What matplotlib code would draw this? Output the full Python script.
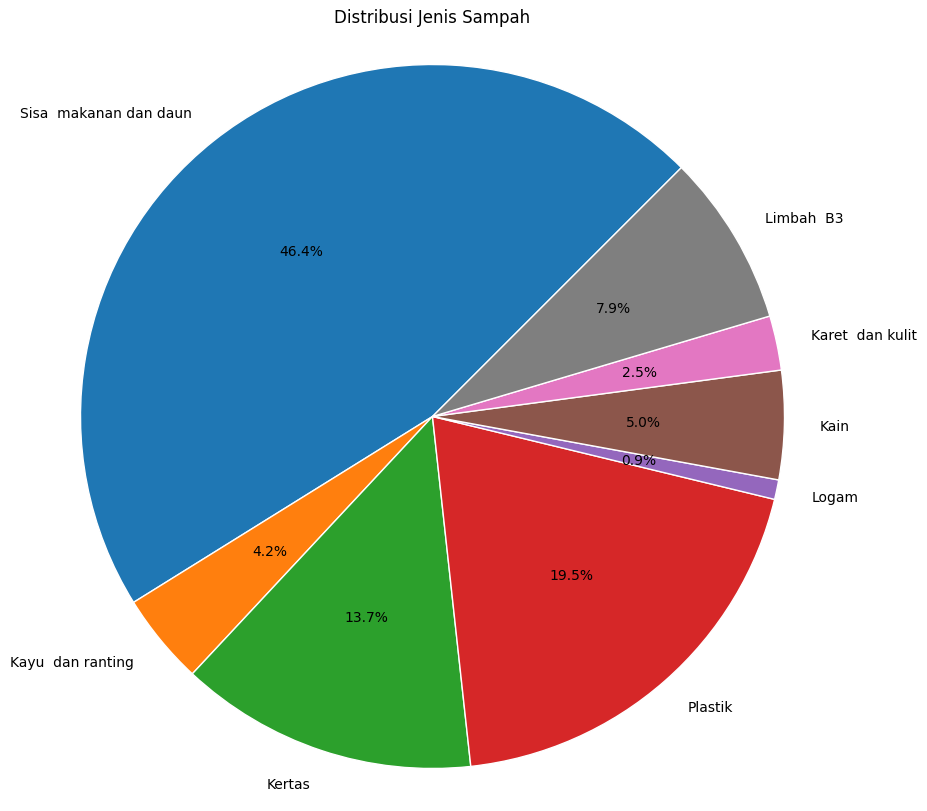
import matplotlib.pyplot as plt

labels = ["Sisa  makanan dan daun", "Kayu  dan ranting", "Kertas", "Plastik",
          "Logam", "Kain", "Karet  dan kulit", "Limbah  B3"]
persen = [46.4, 4.2, 13.7, 19.5, 0.9, 5.0, 2.5, 7.9]

W, H = 927, 812
cx, cy, r = 432.5, 394.5, 352   # pie centre (from bottom) and radius in pixels

fig = plt.figure(figsize=(W / 100, H / 100), dpi=100)
ax = fig.add_axes([0, 0, 1, 1])
ax.pie(persen, labels=labels, autopct="%1.1f%%", startangle=45,
       wedgeprops={"edgecolor": "white", "linewidth": 1})
ax.set_aspect("auto")
ax.set_xlim(-cx / r, (W - cx) / r)
ax.set_ylim(-cy / r, (H - cy) / r)
ax.axis("off")
ax.text(cx / W, 1 - 18 / H, "Distribusi Jenis Sampah", transform=ax.transAxes,
        ha="center", va="center", fontsize=12)

fig.savefig("out.png", dpi=100)
